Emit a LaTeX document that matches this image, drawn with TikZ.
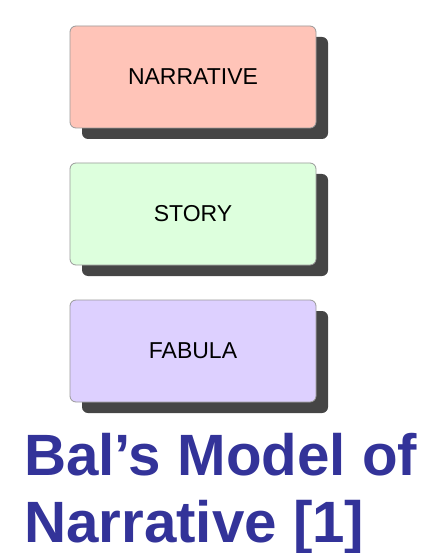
\documentclass[tikz,border=0pt]{standalone}
\usepackage{fontspec}
\setmainfont{Liberation Sans}
\definecolor{narr}{HTML}{FFC4B8}
\definecolor{story}{HTML}{DDFFDD}
\definecolor{fab}{HTML}{DDD0FF}
\definecolor{shad}{HTML}{454545}
\definecolor{edge}{HTML}{9A9A9A}
\definecolor{titleblue}{HTML}{333399}
\tikzset{
  levelbox/.style={draw=edge, line width=0.8pt, rounded corners=6pt, minimum width=246pt, minimum height=102pt, inner sep=0pt, font=\fontsize{23}{27}\selectfont},
  shadowbox/.style={fill=shad, rounded corners=6pt},
  titletext/.style={anchor=base west, inner sep=0pt, text=titleblue, font=\fontsize{58.3}{68}\selectfont\bfseries}
}
\begin{document}
\begin{tikzpicture}[x=1pt,y=-1pt]
\useasboundingbox (0,0) rectangle (421,553);
% shadows
\fill[shadowbox] (82,37) rectangle (328,139);
\fill[shadowbox] (82,174) rectangle (328,276);
\fill[shadowbox] (82,311) rectangle (328,413);
% boxes
\node[levelbox, fill=narr] (narrative) at (193,77) {NARRATIVE};
\node[levelbox, fill=story] (story) at (193,214) {STORY};
\node[levelbox, fill=fab] (fabula) at (193,351) {FABULA};
% title
\node[titletext] (t1) at (24,475) {Bal’s Model of};
\node[titletext] (t2) at (24,542) {Narrative [1]};
\end{tikzpicture}
\end{document}
